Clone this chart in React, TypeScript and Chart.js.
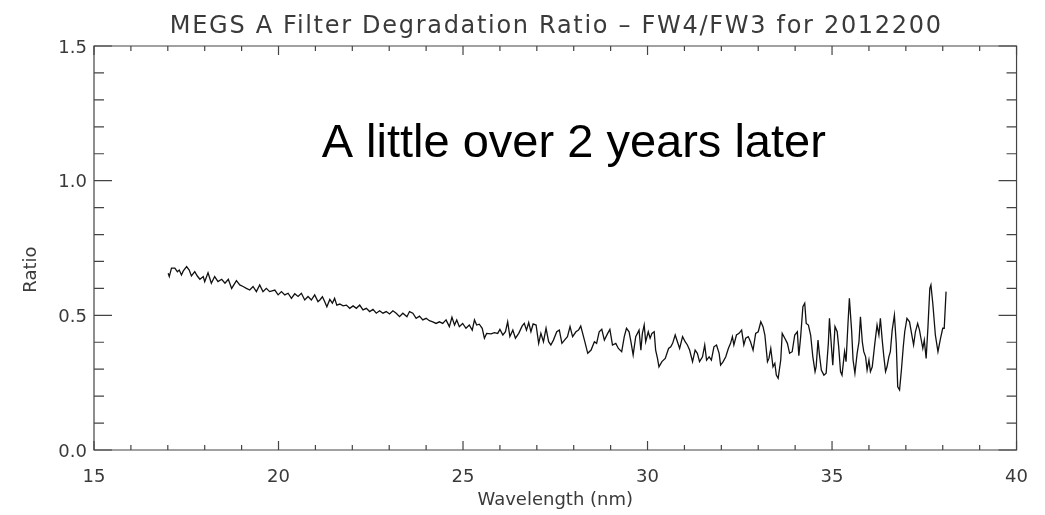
import React, { useEffect, useRef } from 'react';
import { Chart, registerables } from 'chart.js';

Chart.register(...registerables);

// ---- data ----
const wavelengths: number[] = [
  17.01, 17.04, 17.10, 17.19, 17.26, 17.31, 17.37, 17.42, 17.51, 17.58, 17.64, 17.73, 17.80, 17.87, 17.96,
  18.00, 18.09, 18.18, 18.27, 18.36, 18.46, 18.55, 18.64, 18.73, 18.86, 18.95, 19.04, 19.13, 19.22, 19.31,
  19.40, 19.49, 19.58, 19.67, 19.76, 19.90, 19.99, 20.08, 20.17, 20.26, 20.35, 20.44, 20.53, 20.62, 20.71,
  20.80, 20.89, 20.98, 21.07,
  21.12, 21.19, 21.25, 21.31, 21.39, 21.46, 21.52, 21.58, 21.66, 21.75, 21.84, 21.93, 22.02, 22.11, 22.20,
  22.29, 22.38, 22.47, 22.56, 22.65, 22.74, 22.83, 22.92, 23.01, 23.10, 23.19, 23.28, 23.37, 23.48, 23.55,
  23.64, 23.73, 23.82, 23.91, 24.00, 24.09, 24.18, 24.27, 24.36, 24.45, 24.54, 24.63, 24.70, 24.77, 24.83,
  24.90, 24.99, 25.08, 25.17, 25.25, 25.31, 25.37, 25.44,
  25.52, 25.58, 25.64, 25.76, 25.85, 25.94, 26.00, 26.08, 26.15, 26.21, 26.27, 26.35, 26.42, 26.51, 26.60,
  26.66, 26.72, 26.78, 26.84, 26.90, 26.98, 27.05, 27.11, 27.18, 27.25, 27.32, 27.38, 27.45, 27.54, 27.61,
  27.68, 27.75, 27.83, 27.90, 27.97, 28.06, 28.13, 28.19, 28.29, 28.38, 28.47, 28.56, 28.62, 28.69, 28.76,
  28.83, 28.92, 28.98, 29.05, 29.14, 29.21, 29.30, 29.37, 29.43, 29.50, 29.55, 29.61, 29.68,
  29.77, 29.82, 29.86, 29.91, 29.95, 30.02, 30.07, 30.12, 30.18, 30.22, 30.27, 30.31, 30.39, 30.48, 30.57,
  30.63, 30.68, 30.75, 30.81, 30.87, 30.95, 31.02, 31.08, 31.14, 31.22, 31.29, 31.35, 31.41, 31.49, 31.55,
  31.60, 31.67, 31.73, 31.80, 31.87, 31.94, 31.98, 32.05, 32.12, 32.19, 32.25, 32.30, 32.34, 32.41, 32.48,
  32.55, 32.61, 32.66, 32.73, 32.79, 32.86, 32.93, 33.00, 33.07, 33.13, 33.18, 33.25, 33.29, 33.34, 33.40,
  33.45, 33.49, 33.54, 33.61, 33.65, 33.72, 33.79, 33.85, 33.92, 33.99, 34.06,
  34.10, 34.15, 34.21, 34.26, 34.30, 34.36, 34.42, 34.48, 34.54, 34.57, 34.62, 34.66, 34.71, 34.78, 34.84,
  34.90, 34.93, 34.99, 35.02, 35.08, 35.14, 35.18, 35.23, 35.27, 35.34, 35.38, 35.43, 35.47, 35.53, 35.57,
  35.62, 35.68, 35.73, 35.77, 35.82, 35.86, 35.91, 35.95, 36.00, 36.04, 36.09, 36.16, 36.22, 36.27, 36.31,
  36.36, 36.40, 36.45, 36.49, 36.54, 36.58, 36.63, 36.69, 36.74, 36.78, 36.83, 36.88, 36.93, 36.97, 37.03,
  37.10, 37.17, 37.21, 37.26, 37.32, 37.37, 37.41, 37.46, 37.50, 37.55, 37.60, 37.65, 37.68, 37.73, 37.80,
  37.87, 37.94, 38.00, 38.04, 38.09,
];

const ratios: number[] = [
  0.656, 0.644, 0.675, 0.675, 0.662, 0.668, 0.650, 0.665, 0.681, 0.668, 0.646, 0.662, 0.646, 0.634, 0.644,
  0.625, 0.658, 0.619, 0.644, 0.625, 0.634, 0.619, 0.634, 0.600, 0.629, 0.613, 0.607, 0.600, 0.594, 0.607,
  0.588, 0.613, 0.588, 0.600, 0.588, 0.594, 0.576, 0.588, 0.576, 0.582, 0.563, 0.580, 0.570, 0.582, 0.557,
  0.570, 0.557, 0.576, 0.551,
  0.557, 0.569, 0.551, 0.532, 0.559, 0.545, 0.563, 0.538, 0.542, 0.535, 0.538, 0.526, 0.535, 0.526, 0.538,
  0.520, 0.526, 0.514, 0.522, 0.508, 0.517, 0.508, 0.514, 0.505, 0.517, 0.508, 0.495, 0.508, 0.495, 0.514,
  0.508, 0.489, 0.497, 0.483, 0.489, 0.480, 0.476, 0.470, 0.476, 0.470, 0.483, 0.458, 0.493, 0.464, 0.483,
  0.458, 0.470, 0.452, 0.464, 0.445, 0.483, 0.464, 0.467,
  0.452, 0.415, 0.433, 0.431, 0.436, 0.433, 0.448, 0.427, 0.439, 0.476, 0.421, 0.445, 0.415, 0.433, 0.460,
  0.470, 0.445, 0.473, 0.439, 0.468, 0.464, 0.396, 0.433, 0.402, 0.452, 0.402, 0.390, 0.408, 0.439, 0.445,
  0.396, 0.408, 0.421, 0.458, 0.421, 0.439, 0.445, 0.460, 0.408, 0.359, 0.371, 0.402, 0.396, 0.439, 0.448,
  0.408, 0.433, 0.448, 0.390, 0.396, 0.377, 0.365, 0.421, 0.452, 0.439, 0.402, 0.353, 0.421,
  0.445, 0.371, 0.433, 0.464, 0.402, 0.439, 0.415, 0.433, 0.439, 0.371, 0.340, 0.309, 0.328, 0.340, 0.377,
  0.383, 0.396, 0.427, 0.402, 0.377, 0.421, 0.402, 0.390, 0.371, 0.328, 0.371, 0.359, 0.328, 0.346, 0.390,
  0.334, 0.346, 0.334, 0.383, 0.390, 0.359, 0.315, 0.328, 0.346, 0.377, 0.396, 0.421, 0.390, 0.427, 0.433,
  0.445, 0.390, 0.415, 0.421, 0.402, 0.371, 0.433, 0.439, 0.476, 0.458, 0.427, 0.328, 0.340, 0.377, 0.309,
  0.322, 0.278, 0.266, 0.334, 0.433, 0.415, 0.396, 0.359, 0.365, 0.427, 0.439,
  0.350, 0.421, 0.532, 0.545, 0.470, 0.464, 0.427, 0.346, 0.291, 0.309, 0.408, 0.352, 0.297, 0.278, 0.285,
  0.396, 0.489, 0.371, 0.315, 0.458, 0.439, 0.383, 0.291, 0.278, 0.365, 0.328, 0.464, 0.563, 0.445, 0.334,
  0.285, 0.359, 0.402, 0.495, 0.402, 0.365, 0.346, 0.297, 0.334, 0.291, 0.309, 0.396, 0.464, 0.427, 0.489,
  0.408, 0.352, 0.291, 0.309, 0.346, 0.365, 0.445, 0.501, 0.396, 0.235, 0.223, 0.297, 0.383, 0.439, 0.489,
  0.476, 0.421, 0.390, 0.439, 0.470, 0.445, 0.414, 0.377, 0.408, 0.340, 0.458, 0.600, 0.613, 0.545, 0.427,
  0.365, 0.414, 0.452, 0.452, 0.588,
];

const X_MIN = 15;
const X_MAX = 40;
const X_MAJOR = 5;
const X_MINOR = 1;
const Y_MIN = 0;
const Y_MAX = 1.5;
const Y_MAJOR = 0.5;
const Y_MINOR = 0.1;

const TITLE = 'MEGS A Filter Degradation Ratio \u2013 FW4/FW3 for 2012200';
const X_TITLE = 'Wavelength (nm)';
const Y_TITLE = 'Ratio';
const NOTE = 'A little over 2 years later';
const NOTE_AT = { x: 21.17, y: 1.088 };

const INK = '#3a3a3a';
const AXIS_FONT = '"DejaVu Sans", sans-serif';

const isMajor = (v: number, major: number, minor: number) =>
  Math.round(v / minor) % Math.round(major / minor) === 0;

const framePlugin = {
  id: 'idlFrame',
  afterDatasetsDraw(chart: any) {
    const { ctx, chartArea: a, scales } = chart;
    const xs = scales.x;
    const ys = scales.y;
    ctx.save();
    ctx.strokeStyle = '#444';
    ctx.lineWidth = 1.2;
    ctx.beginPath();
    ctx.rect(a.left, a.top, a.right - a.left, a.bottom - a.top);
    ctx.stroke();
    ctx.beginPath();
    xs.ticks.forEach((t: any) => {
      const px = xs.getPixelForValue(t.value);
      const len = isMajor(t.value, X_MAJOR, X_MINOR) ? 9 : 5;
      ctx.moveTo(px, a.bottom);
      ctx.lineTo(px, a.bottom - len);
      ctx.moveTo(px, a.top);
      ctx.lineTo(px, a.top + len);
    });
    ys.ticks.forEach((t: any) => {
      const py = ys.getPixelForValue(t.value);
      const len = isMajor(t.value, Y_MAJOR, Y_MINOR) ? 18 : 10;
      ctx.moveTo(a.left, py);
      ctx.lineTo(a.left + len, py);
      ctx.moveTo(a.right, py);
      ctx.lineTo(a.right - len, py);
    });
    ctx.stroke();

    // title
    ctx.fillStyle = INK;
    ctx.font = `24px ${AXIS_FONT}`;
    ctx.textAlign = 'center';
    ctx.textBaseline = 'alphabetic';
    ctx.letterSpacing = '1.7px';
    ctx.fillText(TITLE, (a.left + a.right) / 2 + 1, 33);
    ctx.letterSpacing = '0px';

    // y axis title
    ctx.save();
    ctx.font = `18px ${AXIS_FONT}`;
    ctx.translate(36, ys.getPixelForValue(0.67));
    ctx.rotate(-Math.PI / 2);
    ctx.textAlign = 'center';
    ctx.fillText(Y_TITLE, 0, 0);
    ctx.restore();

    // annotation
    ctx.fillStyle = '#000';
    ctx.font = '47px "Liberation Sans", Arial, sans-serif';
    ctx.textAlign = 'left';
    ctx.fillText(NOTE, xs.getPixelForValue(NOTE_AT.x), ys.getPixelForValue(NOTE_AT.y));
    ctx.restore();
  },
};

export default function App() {
  const ref = useRef<HTMLCanvasElement>(null);
  useEffect(() => {
    if (!ref.current) return;
    const points = wavelengths.map((w, i) => ({ x: w, y: ratios[i] }));
    const chart = new Chart(ref.current, {
      type: 'line',
      data: {
        datasets: [
          {
            data: points,
            borderColor: '#111',
            borderWidth: 1.3,
            pointRadius: 0,
            tension: 0,
            fill: false,
          },
        ],
      },
      options: {
        responsive: false,
        animation: false,
        layout: { padding: { top: 46, right: 27, left: 0, bottom: 0 } },
        plugins: {
          legend: { display: false },
          tooltip: { enabled: false },
          title: { display: false },
        },
        scales: {
          x: {
            type: 'linear',
            min: X_MIN,
            max: X_MAX,
            afterFit: (s: any) => {
              s.height = 65;
            },
            grid: { display: false, drawTicks: false },
            border: { display: false },
            ticks: {
              stepSize: X_MINOR,
              autoSkip: false,
              maxRotation: 0,
              padding: 17,
              color: INK,
              font: { family: AXIS_FONT, size: 18 },
              callback: (v: any) => (isMajor(Number(v), X_MAJOR, X_MINOR) ? String(Math.round(Number(v))) : ''),
            },
            title: {
              display: true,
              text: X_TITLE,
              color: INK,
              font: { family: AXIS_FONT, size: 18 },
              padding: { top: 0, bottom: 4 },
            },
          },
          y: {
            type: 'linear',
            min: Y_MIN,
            max: Y_MAX,
            afterFit: (s: any) => {
              s.width = 94;
            },
            grid: { display: false, drawTicks: false },
            border: { display: false },
            ticks: {
              stepSize: Y_MINOR,
              autoSkip: false,
              padding: 7,
              labelOffset: 2,
              color: INK,
              font: { family: AXIS_FONT, size: 18 },
              callback: (v: any) => (isMajor(Number(v), Y_MAJOR, Y_MINOR) ? Number(v).toFixed(1) : ''),
            },
            title: { display: false },
          },
        },
      },
      plugins: [framePlugin],
    });
    return () => chart.destroy();
  }, []);
  return (
    <div style={{ position: 'absolute', left: 0, top: 0, width: 1045, height: 515, background: '#fff' }}>
      <canvas ref={ref} width={1045} height={515} style={{ display: 'block' }} />
    </div>
  );
}
